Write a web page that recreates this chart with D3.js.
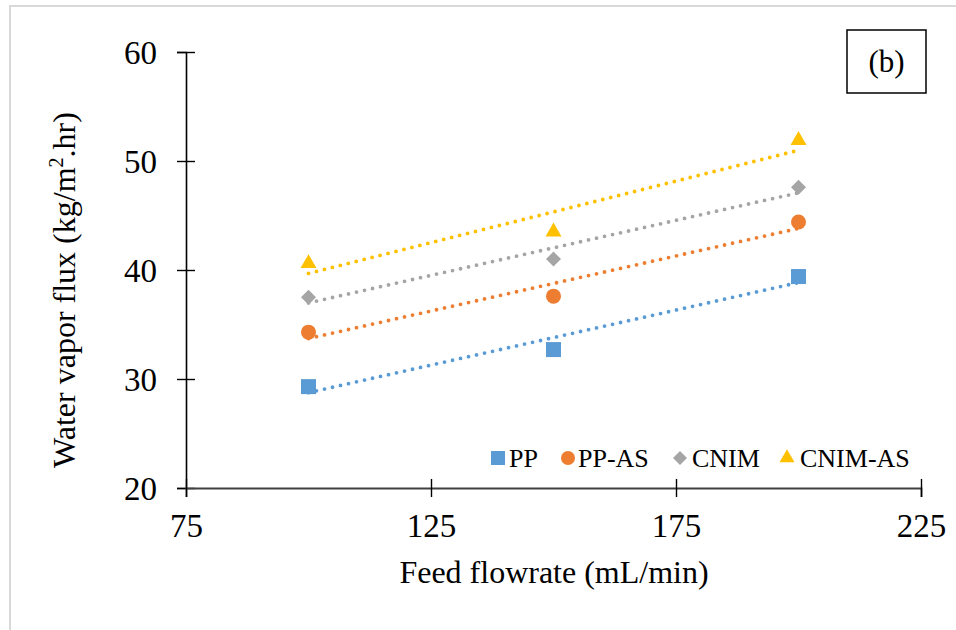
<!DOCTYPE html>
<html>
<head>
<meta charset="utf-8">
<script src="https://cdn.jsdelivr.net/npm/d3@7"></script>
<style>
  html, body { margin: 0; padding: 0; background: #fff; }
  svg { display: block; }
  text { font-family: "Liberation Serif", "Times New Roman", serif; fill: #000; }
</style>
</head>
<body>
<div id="chart"></div>
<script>
// Data
const flowrates = [100, 150, 200];
const seriesNames = ["PP", "PP-AS", "CNIM", "CNIM-AS"];
const ppFlux = [29.3, 32.7, 39.4];
const ppAsFlux = [34.3, 37.6, 44.4];
const cnimFlux = [37.5, 41.0, 47.6];
const cnimAsFlux = [40.6, 43.5, 51.9];
const xTicks = [75, 125, 175, 225];
const yTicks = [20, 30, 40, 50, 60];

const colors = ["#5B9BD5", "#ED7D31", "#A5A5A5", "#FFC000"];
const shapes = ["square", "circle", "diamond", "triangle"];
const allFlux = [ppFlux, ppAsFlux, cnimFlux, cnimAsFlux];

const serif = '"Liberation Serif", "Times New Roman", serif';
const width = 956, height = 630;
const svg = d3.select("#chart").append("svg")
  .attr("width", width)
  .attr("height", height);

// outer frame
svg.append("rect")
  .attr("x", 10).attr("y", 6)
  .attr("width", 1000).attr("height", 700)
  .attr("fill", "none")
  .attr("stroke", "#d9d9d9")
  .attr("stroke-width", 2);

const x = d3.scaleLinear().domain([75, 225]).range([186, 921]);
const y = d3.scaleLinear().domain([20, 60]).range([488, 52]);

// symbol path generator
function symbolPath(shape, s) {
  if (shape === "square") return d3.symbol(d3.symbolSquare, s * s)();
  if (shape === "circle") return d3.symbol(d3.symbolCircle, Math.PI * s * s / 4)();
  if (shape === "diamond") return d3.symbol(d3.symbolSquare, s * s / 2)();
  return d3.symbol(d3.symbolTriangle, Math.sqrt(3) / 4 * s * s)();
}
function symbolTransform(shape, cx, cy) {
  return shape === "diamond" ? `translate(${cx},${cy}) rotate(45)` : `translate(${cx},${cy})`;
}

// axes
const yAxis = svg.append("g")
  .attr("transform", `translate(${x(75)},0)`)
  .call(d3.axisLeft(y).tickValues(yTicks).tickSizeOuter(0).tickSize(9))
  .attr("font-family", null).attr("font-size", null);
yAxis.select(".domain").attr("stroke", "#000").attr("stroke-width", 1.6);
yAxis.selectAll(".tick line").attr("x1", -9).attr("x2", 9).attr("stroke", "#000").attr("stroke-width", 1.4);
yAxis.selectAll(".tick text")
  .attr("x", -29).attr("dy", "0.34em")
  .style("font-family", serif).style("font-size", "33px").attr("fill", "#000");

const xAxis = svg.append("g")
  .attr("transform", `translate(0,${y(20)})`)
  .call(d3.axisBottom(x).tickValues(xTicks).tickSizeOuter(0).tickSize(9))
  .attr("font-family", null).attr("font-size", null);
xAxis.select(".domain").attr("stroke", "#404040").attr("stroke-width", 1.8);
xAxis.selectAll(".tick line").attr("y1", -9).attr("y2", 9).attr("stroke", "#000").attr("stroke-width", 1.4);
xAxis.selectAll(".tick text")
  .attr("y", 49).attr("dy", 0)
  .style("font-family", serif).style("font-size", "33px").attr("fill", "#000");

// axis titles
svg.append("text")
  .attr("x", 554).attr("y", 583)
  .attr("text-anchor", "middle")
  .style("font-size", "32px")
  .text("Feed flowrate (mL/min)");

const yTitle = svg.append("text")
  .attr("transform", "translate(75,290) rotate(-90)")
  .attr("text-anchor", "middle")
  .style("font-size", "32px");
yTitle.append("tspan").text("Water vapor flux (kg/m");
yTitle.append("tspan").attr("dy", -12).style("font-size", "20px").text("2");
yTitle.append("tspan").attr("dy", 12).text(".hr)");

// linear trendlines
function fit(xs, ys) {
  const mx = d3.mean(xs), my = d3.mean(ys);
  const b = d3.sum(xs, (v, i) => (v - mx) * (ys[i] - my)) / d3.sum(xs, v => (v - mx) * (v - mx));
  return { a: my - b * mx, b };
}

const plot = svg.append("g");
allFlux.forEach((vals, i) => {
  const f = fit(flowrates, vals);
  const ext = d3.extent(flowrates);
  plot.append("line")
    .attr("x1", x(ext[0])).attr("y1", y(f.a + f.b * ext[0]))
    .attr("x2", x(ext[1])).attr("y2", y(f.a + f.b * ext[1]))
    .attr("stroke", colors[i])
    .attr("stroke-width", 3.8)
    .attr("stroke-linecap", "round")
    .attr("stroke-dasharray", "0 8.2");
});

allFlux.forEach((vals, i) => {
  plot.selectAll(null)
    .data(flowrates.map((fr, j) => ({ fr, v: vals[j] })))
    .join("path")
    .attr("d", symbolPath(shapes[i], shapes[i] === "triangle" ? 16 : 15))
    .attr("transform", d => symbolTransform(shapes[i], x(d.fr), y(d.v)))
    .attr("fill", colors[i]);
});

// legend
const legendItems = [
  { mx: 498, tx: 509 },
  { mx: 568, tx: 578 },
  { mx: 680, tx: 692 },
  { mx: 787, tx: 800 }
];
const legend = svg.append("g");
seriesNames.forEach((name, i) => {
  const it = legendItems[i];
  legend.append("path")
    .attr("d", symbolPath(shapes[i], shapes[i] === "triangle" ? 15 : 14))
    .attr("transform", symbolTransform(shapes[i], it.mx, 458))
    .attr("fill", colors[i]);
  legend.append("text")
    .attr("x", it.tx).attr("y", 467)
    .style("font-size", "26px")
    .text(name);
});

// panel label
svg.append("rect")
  .attr("x", 847).attr("y", 30)
  .attr("width", 79).attr("height", 63)
  .attr("fill", "#fff")
  .attr("stroke", "#000")
  .attr("stroke-width", 1.5);
svg.append("text")
  .attr("x", 886.5).attr("y", 72)
  .attr("text-anchor", "middle")
  .style("font-size", "31px")
  .text("(b)");
</script>
</body>
</html>
